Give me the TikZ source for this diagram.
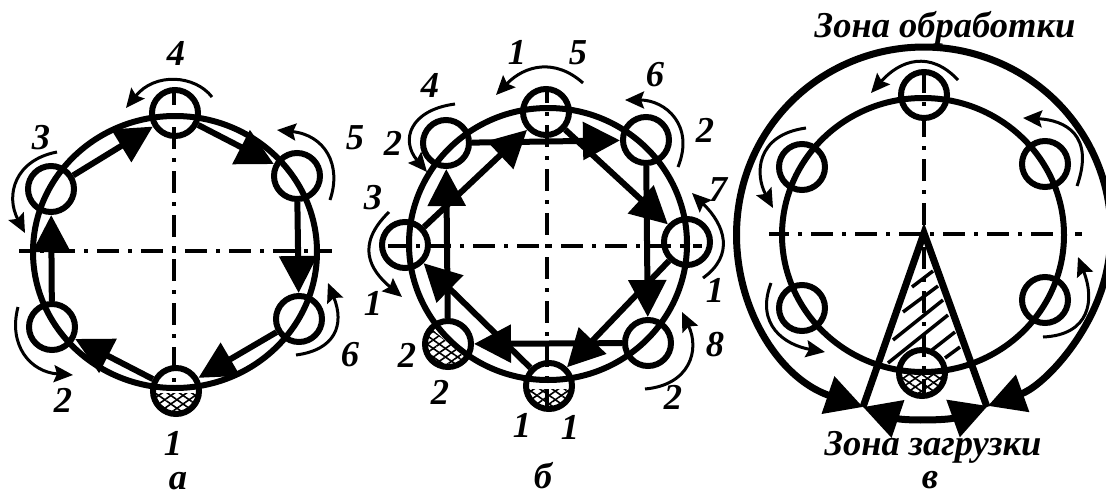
\documentclass[tikz,border=0pt]{standalone}
\usepackage{fontspec}
\setmainfont{Liberation Serif}
\usetikzlibrary{arrows.meta,patterns.meta}

\begin{document}
\begin{tikzpicture}[x=1pt,y=-1pt,>=Stealth,font=\fontsize{36.5}{40}\selectfont\bfseries\itshape]
    \tikzset{
        ring/.style={line width=6pt},
        axisline/.style={line width=3.5pt,dash pattern=on 22pt off 9pt on 4pt off 9pt},
        holder/.style={draw,circle,line width=6pt,minimum size=46pt,inner sep=0pt},
        feed/.style={line width=6pt,-{Triangle[length=37pt,width=37pt]}},
        spin/.style={line width=3pt,-{Stealth[length=19pt,width=17pt,inset=3pt]}},
        meshup/.style={pattern={Lines[angle=35,distance=7pt,line width=1.6pt]}},
        meshdown/.style={pattern={Lines[angle=-35,distance=7pt,line width=1.6pt]}},
        zoneline/.style={line width=7pt},
        zonefeed/.style={line width=7pt,{Triangle[length=37pt,width=38pt]}-{Triangle[length=37pt,width=38pt]}}
    }
    \useasboundingbox (0,0) rectangle (1106,498);
    % Axes
    \foreach \xa/\ya/\xb/\yb/\ph in {19/251/332/251/10,174/87/174/385/4,388/246/702/246/3,547/90/547/410/9,769/234/1082/234/2,924/72/924/398/1} {
        \draw[axisline,dash phase=\ph pt] (\xa,\ya) -- (\xb,\yb);
    }
    % Rings
    \draw[ring] (175,252) circle[x radius=142,y radius=136];
    \draw[ring] (548,244) circle[x radius=139,y radius=136];
    \draw[ring] (923,235) circle[x radius=141,y radius=137];
    % Holders
    \foreach \n/\x/\y in {a1/176/391,a2/52/327,a3/51/189,a4/175/113,a5/297/176,a6/299/319,
        b1/549/386,b2/448/344,b3/405/245,b4/446/143,b5/546/112,b6/646/140,b7/687/242,b8/648/343,
        c1/922/373,c2/802/308,c3/802/167,c4/924/95,c5/1045/164,c6/1045/300} {
        \node[holder] (\n) at (\x,\y) {};
    }
    % Mesh on the loaded holders
    \foreach \n/\reg in {a1/{(150,393) rectangle (200,420)},b1/{(520,389) rectangle (580,415)},
        b2/{(425,323) -- (470,362) -- (470,372) -- (420,372) -- cycle},c1/{(895,374) rectangle (950,400)}} {
        \begin{scope}
            \clip (\n) circle[radius=23];
            \fill[meshup] \reg;
            \fill[meshdown] \reg;
        \end{scope}
    }
    % a
    \foreach \p/\q in {a3/a4,a4/a5,a5/a6,a6/a1,a1/a2,a2/a3} {
        \draw[feed] (\p) -- (\q);
    }
    % b
    \foreach \p/\q in {b3/b5,b5/b7,b7/b1,b1/b3,b4/b6,b6/b8,b8/b2,b2/b4} {
        \draw[feed] (\p) -- (\q);
    }
    % Small arrows at the holders
    \foreach \n/\sx/\sy/\ax/\ay/\bx/\by/\ex/\ey in {
        sa/212/97/195/75/155/72/126/108,
        sb/330/200/342/165/325/135/277/130,
        sc/296/355/335/350/345/325/328/283,
        sd/18/307/8/345/30/372/73/375,
        se/57/152/15/160/5/195/25/233,
        sf/583/83/555/58/525/65/496/95,
        sg/678/167/695/125/665/100/625/100,
        sh/703/278/735/255/725/225/692/193,
        si/645/389/690/385/700/350/682/312,
        sj/389/212/355/245/370/270/402/297,
        sk/455/104/410/110/400/140/427/172,
        sl/958/80/930/50/900/60/871/93,
        sm/1077/186/1095/135/1065/120/1023/118,
        sn/1043/337/1090/335/1095/300/1078/257,
        so/806/128/755/135/755/175/773/208,
        sp/771/283/755/325/785/345/825/352} {
        \coordinate (\n s) at (\sx,\sy);
        \coordinate (\n e) at (\ex,\ey);
        \draw[spin] (\n s) .. controls (\ax,\ay) and (\bx,\by) .. (\n e);
    }
    % c
    \coordinate (apex) at (924,233);
    \coordinate (rayL) at (863,407);
    \coordinate (rayR) at (987,407);
    \draw[zoneline,line join=miter] (rayL) -- (apex) -- (rayR);
    \foreach \xa/\ya/\xb/\yb in {912/287/933/271,903/312/938/286,893/340/943/300,888/363/948/315,932/350/955/332,945/358/960/347} {
        \draw[line width=3.5pt] (\xa,\ya) -- (\xb,\yb);
    }
    \draw[zonefeed] (rayL) arc[start angle=109,end angle=430,x radius=187,y radius=185];
    \draw[zonefeed] (rayL) arc[start angle=109,end angle=70,x radius=187,y radius=185];
    % Labels
    \foreach \n/\x/\y/\t in {la/176/53/4,lb/355/138/5,lc/41/138/3,ld/350/355/6,le/63/400/2,lf/173/443/1,lg/178/481/а,
        lh/517/52/1,li/578/53/5,lj/655/75/6,lk/430/85/4,ll/705/130/2,lm/393/143/2,ln/373/198/3,lo/718/190/7,
        lp/715/290/1,lq/373/303/1,lr/715/345/8,ls/407/355/2,lt/440/392/2,lu/673/397/2,lv/522/425/1,lw/570/427/1,lx/543/476/б,
        ly/945/28/Зона обработки,lz/933/447/Зона загрузки,lzz/930/480/в} {
        \node[inner sep=0pt] (\n) at (\x,\y) {\t};
    }
\end{tikzpicture}
\end{document}
